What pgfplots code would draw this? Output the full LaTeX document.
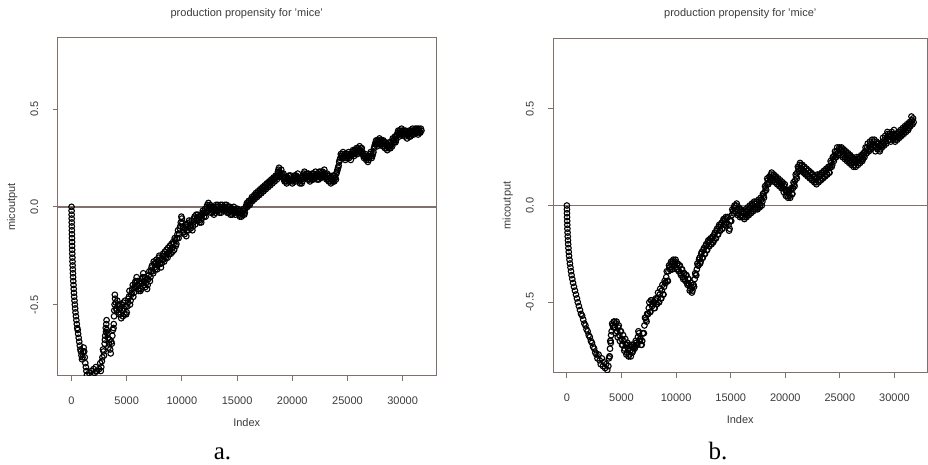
\documentclass[border=0pt]{standalone}
\usepackage{pgfplots}
\usepackage{pgfplotstable}
\pgfplotsset{compat=1.18}
\usepackage{fontspec}
\setmainfont{Liberation Sans}
\newfontfamily\capfont{Liberation Serif}
\definecolor{boxcol}{RGB}{128,112,108}
\definecolor{txtcol}{RGB}{60,58,56}

\pgfplotstableread{
x y
0 0.00
5 -0.02
10 -0.04
15 -0.06
20 -0.08
25 -0.10
30 -0.12
35 -0.14
40 -0.16
50 -0.18
55 -0.20
60 -0.22
70 -0.24
80 -0.26
90 -0.28
100 -0.30
115 -0.32
130 -0.34
145 -0.36
160 -0.38
180 -0.40
200 -0.42
220 -0.44
240 -0.46
270 -0.48
300 -0.50
330 -0.52
360 -0.54
400 -0.56
440 -0.58
480 -0.60
520 -0.62
560 -0.63
600 -0.65
650 -0.67
700 -0.69
750 -0.71
800 -0.73
850 -0.74
900 -0.76
950 -0.78
1000 -0.77
1050 -0.74
1100 -0.72
1150 -0.74
1200 -0.77
1250 -0.80
1300 -0.82
1350 -0.84
1400 -0.86
1500 -0.88
1600 -0.85
1700 -0.87
1800 -0.84
1900 -0.86
2000 -0.83
2100 -0.85
2200 -0.82
2300 -0.84
2400 -0.87
2500 -0.83
2600 -0.80
2700 -0.82
2800 -0.77
2900 -0.74
3000 -0.70
3050 -0.66
3100 -0.62
3150 -0.60
3200 -0.63
3300 -0.67
3400 -0.70
3500 -0.73
3600 -0.69
3700 -0.66
3800 -0.62
3850 -0.56
3900 -0.50
3950 -0.47
4000 -0.49
4100 -0.53
4200 -0.50
4300 -0.55
4400 -0.52
4500 -0.57
4600 -0.53
4700 -0.49
4800 -0.55
4900 -0.51
5000 -0.54
5100 -0.49
5200 -0.46
5300 -0.50
5400 -0.45
5500 -0.42
5600 -0.46
5700 -0.41
5800 -0.38
5900 -0.36
6000 -0.40
6100 -0.43
6200 -0.39
6300 -0.42
6400 -0.37
6500 -0.34
6600 -0.38
6700 -0.41
6800 -0.37
6900 -0.40
7000 -0.35
7100 -0.38
7200 -0.33
7300 -0.30
7400 -0.34
7500 -0.29
7600 -0.32
7700 -0.27
7800 -0.30
7900 -0.26
8000 -0.29
8100 -0.31
8200 -0.27
8300 -0.24
8400 -0.28
8500 -0.25
8600 -0.22
8700 -0.26
8800 -0.23
8900 -0.20
9000 -0.24
9100 -0.21
9200 -0.18
9300 -0.22
9400 -0.17
9500 -0.19
9600 -0.14
9700 -0.16
9800 -0.11
9900 -0.08
10000 -0.06
10100 -0.10
10200 -0.13
10300 -0.11
10400 -0.15
10500 -0.09
10600 -0.12
10700 -0.08
10800 -0.11
10900 -0.07
11000 -0.10
11100 -0.06
11200 -0.09
11300 -0.04
11400 -0.07
11500 -0.05
11600 -0.08
11700 -0.04
11800 -0.06
11900 -0.02
12000 -0.05
12100 -0.01
12200 -0.03
12300 0.01
12400 0.02
12500 -0.01
12600 -0.03
12700 0.00
12800 -0.02
12900 -0.04
13000 -0.01
13100 0.01
13200 -0.02
13300 0.00
13400 -0.03
13500 0.01
13600 -0.01
13700 0.00
13800 -0.02
13900 0.01
14000 -0.01
14100 -0.03
14200 0.00
14300 -0.02
14400 -0.04
14500 -0.01
14600 -0.03
14700 0.00
14800 -0.02
14900 -0.01
15000 -0.03
15100 -0.02
15200 -0.04
15300 -0.02
15400 -0.05
15500 -0.03
15600 -0.01
15700 -0.03
15800 0.00
15900 0.02
16000 0.01
16100 0.03
16200 0.02
16300 0.04
16400 0.03
16500 0.05
16600 0.04
16700 0.07
16800 0.05
16900 0.08
17000 0.06
17100 0.09
17200 0.07
17300 0.10
17400 0.08
17500 0.11
17600 0.09
17700 0.12
17800 0.10
17900 0.13
18000 0.11
18100 0.14
18200 0.12
18300 0.15
18400 0.13
18500 0.16
18600 0.14
18700 0.18
18800 0.20
18900 0.17
19000 0.19
19100 0.15
19200 0.17
19300 0.13
19400 0.15
19500 0.12
19600 0.14
19700 0.16
19800 0.13
19900 0.15
20000 0.12
20100 0.14
20200 0.16
20300 0.13
20400 0.15
20500 0.17
20600 0.14
20700 0.12
20800 0.15
20900 0.13
21000 0.16
21100 0.18
21200 0.15
21300 0.17
21400 0.14
21500 0.16
21600 0.13
21700 0.15
21800 0.17
21900 0.14
22000 0.16
22100 0.18
22200 0.15
22300 0.17
22400 0.14
22500 0.16
22600 0.18
22700 0.15
22800 0.17
22900 0.19
23000 0.16
23100 0.14
23200 0.16
23300 0.13
23400 0.15
23500 0.12
23600 0.14
23700 0.16
23800 0.13
23900 0.15
24000 0.17
24100 0.19
24200 0.21
24300 0.24
24400 0.27
24500 0.25
24600 0.28
24700 0.26
24800 0.24
24900 0.27
25000 0.25
25100 0.28
25200 0.26
25300 0.24
25400 0.27
25500 0.29
25600 0.26
25700 0.28
25800 0.30
25900 0.27
26000 0.29
26100 0.31
26200 0.28
26300 0.30
26400 0.27
26500 0.25
26600 0.27
26700 0.24
26800 0.26
26900 0.24
27000 0.26
27100 0.28
27200 0.25
27300 0.27
27400 0.30
27500 0.32
27600 0.34
27700 0.31
27800 0.33
27900 0.35
28000 0.32
28100 0.34
28200 0.31
28300 0.33
28400 0.30
28500 0.32
28600 0.29
28700 0.31
28800 0.33
28900 0.30
29000 0.32
29100 0.35
29200 0.33
29300 0.36
29400 0.34
29500 0.37
29600 0.39
29700 0.36
29800 0.38
29900 0.40
30000 0.37
30100 0.39
30200 0.36
30300 0.38
30400 0.35
30500 0.37
30600 0.39
30700 0.36
30800 0.38
30900 0.40
31000 0.37
31100 0.39
31200 0.38
31300 0.40
31400 0.37
31500 0.39
31600 0.38
31700 0.39
}\dataA

\pgfplotstableread{
x y
2650 -0.84
2750 -0.79
2850 -0.73
2950 -0.76
3025 -0.68
3125 -0.64
3175 -0.58
3250 -0.65
3350 -0.72
3450 -0.68
3550 -0.75
3650 -0.70
3750 -0.63
3825 -0.60
3875 -0.53
3925 -0.45
4050 -0.52
4150 -0.48
4250 -0.54
4350 -0.50
4450 -0.55
4550 -0.50
4650 -0.56
4750 -0.52
4850 -0.48
4950 -0.55
5050 -0.51
5150 -0.47
5250 -0.43
5350 -0.48
5450 -0.44
5550 -0.40
5650 -0.44
5750 -0.39
5850 -0.41
5950 -0.38
6050 -0.42
6150 -0.38
6250 -0.43
6350 -0.39
6450 -0.36
6550 -0.40
6650 -0.36
6750 -0.39
6850 -0.42
6950 -0.37
7050 -0.33
7150 -0.36
7250 -0.31
7350 -0.33
7450 -0.28
7550 -0.31
7650 -0.29
7750 -0.32
7850 -0.28
7950 -0.25
8050 -0.27
8150 -0.29
8250 -0.25
8350 -0.27
8450 -0.23
8550 -0.26
8650 -0.24
8750 -0.21
8850 -0.24
8950 -0.22
9050 -0.19
9150 -0.23
9250 -0.19
9350 -0.16
9450 -0.20
9550 -0.16
9650 -0.12
9750 -0.14
9850 -0.10
9950 -0.05
10050 -0.08
10150 -0.12
10250 -0.14
10350 -0.09
10450 -0.12
10550 -0.10
10650 -0.07
10750 -0.10
10850 -0.09
10950 -0.12
11050 -0.08
11150 -0.05
11250 -0.07
11350 -0.06
11450 -0.04
11550 -0.07
11650 -0.05
11750 -0.08
11850 -0.04
11950 -0.03
12050 -0.03
12150 -0.05
12250 0.00
12350 -0.02
12450 0.00
12550 0.01
12650 -0.01
12750 -0.03
12850 0.00
12950 -0.02
13050 -0.03
13150 0.00
13250 0.01
13350 -0.02
13450 -0.01
13550 -0.03
13650 0.01
13750 -0.01
13850 0.00
13950 -0.02
14050 0.01
14150 -0.01
14250 -0.03
14350 0.00
14450 -0.02
14550 -0.04
14650 -0.01
14750 -0.03
14850 -0.04
14950 -0.02
15050 -0.01
15150 -0.03
15250 -0.05
15350 -0.03
15450 -0.04
15550 -0.02
15650 -0.04
15750 -0.01
15850 0.01
15950 0.00
16050 0.03
16150 0.01
16250 0.03
16350 0.05
16450 0.04
16550 0.06
16650 0.05
16750 0.06
16850 0.07
16950 0.06
17050 0.08
17150 0.07
17250 0.09
17350 0.08
17450 0.10
17550 0.10
17650 0.11
17750 0.12
17850 0.11
17950 0.12
18050 0.13
18150 0.13
18250 0.14
18350 0.14
18450 0.15
18550 0.15
18650 0.16
18750 0.19
18850 0.18
18950 0.16
19050 0.17
19150 0.16
19250 0.14
19350 0.15
19450 0.13
19550 0.15
19650 0.13
19750 0.14
19850 0.16
19950 0.14
20050 0.13
20150 0.15
20250 0.14
20350 0.16
20450 0.14
20550 0.15
20650 0.13
20750 0.14
20850 0.12
20950 0.15
21050 0.17
21150 0.16
21250 0.16
21350 0.15
21450 0.17
21550 0.14
21650 0.16
21750 0.14
21850 0.15
21950 0.17
22050 0.15
22150 0.16
22250 0.14
22350 0.16
22450 0.18
22550 0.15
22650 0.16
22750 0.18
22850 0.16
22950 0.17
23050 0.15
23150 0.17
23250 0.14
23350 0.16
23450 0.13
23550 0.15
23650 0.13
23750 0.14
23850 0.16
23950 0.14
24050 0.18
24150 0.20
24250 0.23
24350 0.25
24450 0.26
24550 0.27
24650 0.25
24750 0.27
24850 0.25
24950 0.26
25050 0.27
25150 0.25
25250 0.27
25350 0.26
25450 0.28
25550 0.27
25650 0.29
25750 0.27
25850 0.29
25950 0.30
26050 0.28
26150 0.29
26250 0.30
26350 0.28
26450 0.26
26550 0.26
26650 0.25
26750 0.25
26850 0.23
26950 0.25
27050 0.27
27150 0.26
27250 0.26
27350 0.28
27450 0.31
27550 0.33
27650 0.32
27750 0.34
27850 0.32
27950 0.34
28050 0.33
28150 0.32
28250 0.34
28350 0.31
28450 0.33
28550 0.30
28650 0.32
28750 0.30
28850 0.31
28950 0.33
29050 0.31
29150 0.34
29250 0.35
29350 0.33
29450 0.36
29550 0.38
29650 0.37
29750 0.39
29850 0.37
29950 0.39
30050 0.38
30150 0.37
30250 0.39
30350 0.37
30450 0.38
30550 0.36
30650 0.38
30750 0.39
30850 0.37
30950 0.39
31050 0.38
31150 0.40
31250 0.39
31350 0.38
31450 0.40
31550 0.38
31650 0.40
}\dataAb

\pgfplotstableread{
x y
0 0.00
5 -0.02
10 -0.04
20 -0.06
30 -0.08
40 -0.10
50 -0.12
65 -0.14
80 -0.16
100 -0.18
120 -0.20
145 -0.22
170 -0.24
200 -0.26
240 -0.28
280 -0.30
330 -0.32
380 -0.34
430 -0.36
500 -0.38
570 -0.40
650 -0.42
740 -0.44
830 -0.46
920 -0.48
1000 -0.50
1100 -0.52
1200 -0.54
1300 -0.56
1400 -0.57
1500 -0.59
1600 -0.61
1700 -0.62
1800 -0.64
1900 -0.65
2000 -0.67
2100 -0.68
2200 -0.70
2300 -0.71
2400 -0.73
2500 -0.74
2600 -0.76
2700 -0.77
2800 -0.79
2900 -0.77
3000 -0.80
3100 -0.82
3200 -0.79
3300 -0.83
3400 -0.81
3500 -0.84
3600 -0.82
3700 -0.85
3800 -0.83
3900 -0.78
3950 -0.74
4000 -0.70
4050 -0.67
4100 -0.65
4200 -0.62
4300 -0.60
4400 -0.63
4500 -0.61
4600 -0.65
4700 -0.63
4800 -0.67
4900 -0.65
5000 -0.69
5100 -0.72
5200 -0.70
5300 -0.74
5400 -0.72
5500 -0.76
5600 -0.74
5700 -0.77
5800 -0.75
5900 -0.73
6000 -0.76
6100 -0.72
6200 -0.74
6300 -0.70
6400 -0.72
6500 -0.68
6600 -0.66
6700 -0.69
6800 -0.72
6900 -0.70
7000 -0.66
7100 -0.62
7200 -0.58
7300 -0.60
7400 -0.56
7500 -0.53
7600 -0.55
7700 -0.49
7800 -0.52
7900 -0.50
8000 -0.53
8100 -0.49
8200 -0.51
8300 -0.48
8400 -0.50
8500 -0.46
8600 -0.48
8700 -0.44
8800 -0.46
8900 -0.42
9000 -0.40
9100 -0.37
9200 -0.39
9300 -0.34
9400 -0.32
9500 -0.30
9600 -0.33
9700 -0.29
9800 -0.31
9900 -0.29
10000 -0.32
10100 -0.30
10200 -0.33
10300 -0.31
10400 -0.35
10500 -0.33
10600 -0.37
10700 -0.35
10800 -0.38
10900 -0.36
11000 -0.40
11100 -0.38
11200 -0.41
11300 -0.43
11400 -0.42
11500 -0.44
11600 -0.41
11700 -0.38
11800 -0.36
11900 -0.33
12000 -0.31
12100 -0.28
12200 -0.30
12300 -0.25
12400 -0.27
12500 -0.23
12600 -0.25
12700 -0.21
12800 -0.23
12900 -0.19
13000 -0.21
13100 -0.18
13200 -0.20
13300 -0.17
13400 -0.19
13500 -0.15
13600 -0.17
13700 -0.13
13800 -0.15
13900 -0.11
14000 -0.13
14100 -0.10
14200 -0.12
14300 -0.08
14400 -0.10
14500 -0.07
14600 -0.09
14700 -0.06
14800 -0.10
14900 -0.12
15000 -0.08
15100 -0.05
15200 -0.03
15300 -0.01
15400 -0.03
15500 0.00
15600 -0.02
15700 -0.04
15800 -0.02
15900 -0.05
16000 -0.03
16100 -0.06
16200 -0.04
16300 -0.06
16400 -0.03
16500 -0.05
16600 -0.02
16700 -0.04
16800 -0.01
16900 -0.03
17000 0.00
17100 -0.02
17200 0.01
17300 -0.01
17400 0.01
17500 -0.01
17600 0.02
17700 0.00
17800 0.03
17900 0.02
18000 0.05
18100 0.07
18200 0.09
18300 0.11
18400 0.13
18500 0.12
18600 0.14
18700 0.16
18800 0.14
18900 0.15
19000 0.13
19100 0.14
19200 0.12
19300 0.13
19400 0.11
19500 0.12
19600 0.10
19700 0.11
19800 0.09
19900 0.10
20000 0.08
20100 0.07
20200 0.05
20300 0.07
20400 0.05
20500 0.08
20600 0.06
20700 0.09
20800 0.11
20900 0.13
21000 0.15
21100 0.17
21200 0.19
21300 0.21
21400 0.19
21500 0.21
21600 0.18
21700 0.20
21800 0.17
21900 0.19
22000 0.16
22100 0.18
22200 0.15
22300 0.17
22400 0.14
22500 0.16
22600 0.13
22700 0.15
22800 0.12
22900 0.14
23000 0.13
23100 0.15
23200 0.13
23300 0.16
23400 0.14
23500 0.17
23600 0.15
23700 0.18
23800 0.16
23900 0.19
24000 0.17
24100 0.20
24200 0.22
24300 0.21
24400 0.24
24500 0.26
24600 0.25
24700 0.28
24800 0.27
24900 0.29
25000 0.27
25100 0.29
25200 0.28
25300 0.26
25400 0.28
25500 0.25
25600 0.27
25700 0.24
25800 0.26
25900 0.23
26000 0.25
26100 0.22
26200 0.24
26300 0.21
26400 0.23
26500 0.22
26600 0.24
26700 0.22
26800 0.24
26900 0.23
27000 0.25
27100 0.24
27200 0.26
27300 0.28
27400 0.27
27500 0.30
27600 0.29
27700 0.31
27800 0.30
27900 0.32
28000 0.31
28100 0.33
28200 0.31
28300 0.30
28400 0.32
28500 0.30
28600 0.31
28700 0.29
28800 0.31
28900 0.33
29000 0.32
29100 0.34
29200 0.33
29300 0.35
29400 0.37
29500 0.36
29600 0.34
29700 0.36
29800 0.35
29900 0.37
30000 0.36
30100 0.34
30200 0.36
30300 0.35
30400 0.37
30500 0.36
30600 0.38
30700 0.37
30800 0.39
30900 0.38
31000 0.40
31100 0.39
31200 0.41
31300 0.40
31400 0.42
31500 0.43
31600 0.44
31700 0.45
31750 0.43
}\dataB

\pgfplotstableread{
x y
3850 -0.79
3925 -0.78
3975 -0.70
4025 -0.71
4150 -0.61
4250 -0.63
4350 -0.60
4450 -0.66
4550 -0.60
4650 -0.68
4750 -0.62
4850 -0.70
4950 -0.65
5050 -0.72
5150 -0.67
5250 -0.75
5350 -0.69
5450 -0.77
5550 -0.71
5650 -0.78
5750 -0.72
5850 -0.78
5950 -0.72
6050 -0.75
6150 -0.73
6250 -0.73
6350 -0.71
6450 -0.72
6550 -0.65
6650 -0.70
6750 -0.69
6850 -0.72
6950 -0.66
7050 -0.66
7150 -0.58
7250 -0.59
7350 -0.56
7450 -0.56
7550 -0.50
7650 -0.55
7750 -0.49
7850 -0.51
7950 -0.50
8050 -0.53
8150 -0.48
8250 -0.51
8350 -0.45
8450 -0.50
8550 -0.43
8650 -0.48
8750 -0.41
8850 -0.46
8950 -0.39
9050 -0.40
9150 -0.34
9250 -0.39
9350 -0.31
9450 -0.33
9550 -0.29
9650 -0.33
9750 -0.28
9850 -0.30
9950 -0.28
10050 -0.33
10150 -0.30
10250 -0.34
10350 -0.31
10450 -0.36
10550 -0.33
10650 -0.38
10750 -0.35
10850 -0.39
10950 -0.36
11050 -0.41
11150 -0.38
11250 -0.44
11350 -0.40
11450 -0.45
11550 -0.41
11650 -0.42
11750 -0.35
11850 -0.36
11950 -0.30
12050 -0.31
12150 -0.27
12250 -0.29
12350 -0.24
12450 -0.27
12550 -0.22
12650 -0.25
12750 -0.20
12850 -0.23
12950 -0.18
13050 -0.21
13150 -0.17
13250 -0.20
13350 -0.16
13450 -0.18
13550 -0.14
13650 -0.17
13750 -0.12
13850 -0.15
13950 -0.10
14050 -0.13
14150 -0.09
14250 -0.12
14350 -0.07
14450 -0.10
14550 -0.06
14650 -0.09
14750 -0.06
14850 -0.13
14950 -0.08
15050 -0.08
15150 -0.02
15250 -0.04
15350 0.00
15450 -0.03
15550 0.01
15650 -0.05
15750 -0.01
15850 -0.06
15950 -0.02
16050 -0.06
16150 -0.03
16250 -0.07
16350 -0.02
16450 -0.06
16550 -0.01
16650 -0.05
16750 0.00
16850 -0.04
16950 0.01
17050 -0.03
17150 0.02
17250 -0.02
17350 0.02
17450 -0.02
17550 0.03
17650 -0.01
17750 0.04
17850 0.00
17950 0.06
18050 0.04
18150 0.10
18250 0.08
18350 0.14
18450 0.11
18550 0.15
18650 0.13
18750 0.17
18850 0.13
18950 0.16
19050 0.12
19150 0.15
19250 0.11
19350 0.14
19450 0.10
19550 0.13
19650 0.09
19750 0.12
19850 0.07
19950 0.11
20050 0.05
20150 0.08
20250 0.04
20350 0.08
20450 0.04
20550 0.09
20650 0.06
20750 0.12
20850 0.10
20950 0.16
21050 0.14
21150 0.20
21250 0.18
21350 0.22
21450 0.18
21550 0.21
21650 0.17
21750 0.20
21850 0.16
21950 0.19
22050 0.15
22150 0.18
22250 0.14
22350 0.17
22450 0.13
22550 0.16
22650 0.12
22750 0.15
22850 0.11
22950 0.16
23050 0.12
23150 0.16
23250 0.13
23350 0.17
23450 0.14
23550 0.18
23650 0.15
23750 0.19
23850 0.16
23950 0.20
24050 0.17
24150 0.23
24250 0.20
24350 0.25
24450 0.23
24550 0.28
24650 0.25
24750 0.30
24850 0.26
24950 0.30
25050 0.26
25150 0.30
25250 0.25
25350 0.29
25450 0.24
25550 0.28
25650 0.23
25750 0.27
25850 0.22
25950 0.26
26050 0.21
26150 0.25
26250 0.20
26350 0.24
26450 0.20
26550 0.25
26650 0.21
26750 0.25
26850 0.22
26950 0.26
27050 0.23
27150 0.27
27250 0.25
27350 0.30
27450 0.27
27550 0.32
27650 0.28
27750 0.33
27850 0.29
27950 0.34
28050 0.30
28150 0.34
28250 0.28
28350 0.33
28450 0.29
28550 0.32
28650 0.28
28750 0.32
28850 0.30
28950 0.35
29050 0.31
29150 0.36
29250 0.32
29350 0.38
29450 0.34
29550 0.37
29650 0.33
29750 0.38
29850 0.34
29950 0.39
30050 0.33
30150 0.37
30250 0.34
30350 0.38
30450 0.35
30550 0.39
30650 0.36
30750 0.40
30850 0.37
30950 0.41
31050 0.38
31150 0.42
31250 0.39
31350 0.43
31450 0.41
31550 0.46
31650 0.42
}\dataBb

\pgfplotsset{rplot/.style={
  scale only axis,
  clip marker paths=true,
  xmin=-1270, xmax=33020, ymin=-0.864, ymax=0.864,
  axis line style={boxcol, line width=0.5pt},
  tick style={boxcol, line width=0.5pt},
  tick align=outside, major tick length=2.5pt,
  tick pos=left,
  scaled ticks=false,
  xtick={0,5000,10000,15000,20000,25000,30000},
  xticklabels={0,5000,10000,15000,20000,25000,30000},
  ytick={-0.5,0,0.5},
  yticklabels={-0.5,0.0,0.5},
  tick label style={font=\fontsize{5.5}{6.6}\selectfont, text=txtcol},
  xticklabel style={anchor=center, yshift=-10pt},
  yticklabel style={xshift=-9.1pt, rotate=90, anchor=center},
  every axis title/.style={font=\fontsize{5.5}{6.6}\selectfont, text=txtcol, at={(axis description cs:0.5,1)}, anchor=center, yshift=12.35pt},
  every axis x label/.style={font=\fontsize{5.5}{6.6}\selectfont, text=txtcol, at={(axis description cs:0.5,0)}, anchor=center, yshift=-23.3pt},
  every axis y label/.style={font=\fontsize{5.5}{6.6}\selectfont, text=txtcol, at={(axis description cs:0,0.5)}, xshift=-22.6pt, rotate=90, anchor=center},
  title={production propensity for 'mice'},
  xlabel={Index},
  ylabel={micoutput},
  pts/.style={only marks, mark=o, mark size=1.4pt, mark options={line width=0.55pt, draw=black}},
}}

\begin{document}
\begin{tikzpicture}
\useasboundingbox (0,0) rectangle (464pt,232.5pt);
\begin{axis}[rplot, at={(28.75pt,44.65pt)}, anchor=south west, width=189.25pt, height=168.85pt]
\addplot[boxcol, line width=0.7pt] coordinates {(-1270,0) (33020,0)};
\addplot[pts] table[x=x,y=y] {\dataA};
\addplot[pts] table[x=x,y=y] {\dataAb};
\end{axis}
\begin{axis}[rplot, at={(276.5pt,46.15pt)}, anchor=south west, width=187.25pt, height=167.2pt]
\addplot[boxcol, line width=0.7pt] coordinates {(-1270,0) (33020,0)};
\addplot[pts] table[x=x,y=y] {\dataB};
\addplot[pts] table[x=x,y=y] {\dataBb};
\end{axis}
\node[font=\capfont\fontsize{12.5}{14}\selectfont, anchor=base] at (111.25pt,2.8pt) {a.};
\node[font=\capfont\fontsize{12.5}{14}\selectfont, anchor=base] at (359pt,2.8pt) {b.};
\end{tikzpicture}
\end{document}
